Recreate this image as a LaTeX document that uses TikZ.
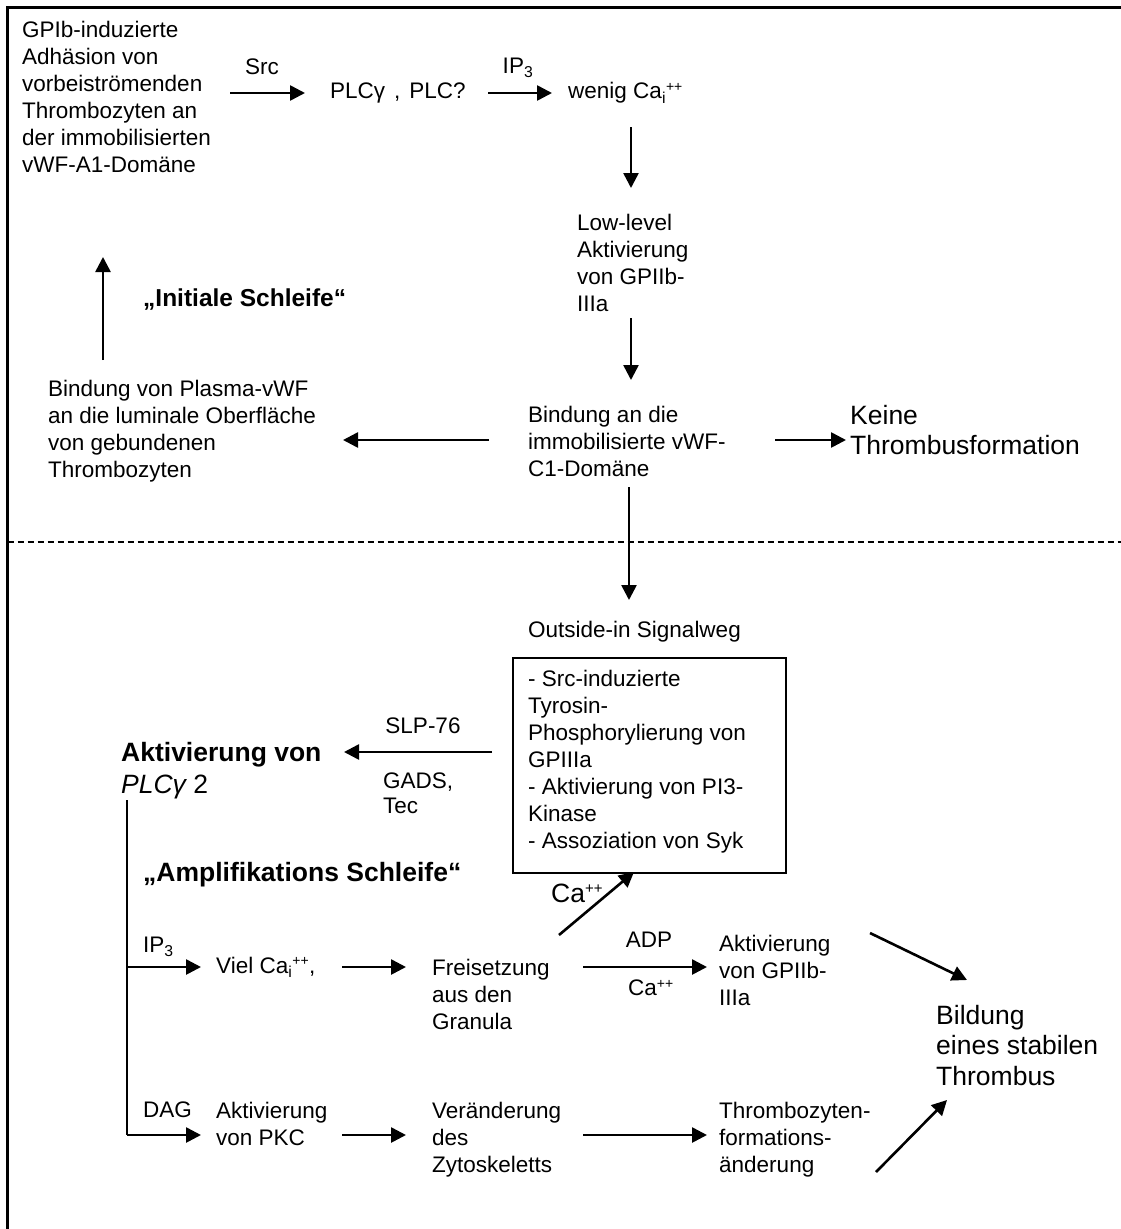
\documentclass[tikz,border=0pt]{standalone}
\usepackage{fontspec}
\setmainfont{Liberation Sans}
\usetikzlibrary{arrows.meta}
\begin{document}
\begin{tikzpicture}[x=1pt,y=-1pt,
  txt/.style={inner sep=0pt, anchor=north west, align=left, font=\fontsize{22.5}{27}\selectfont},
  big/.style={inner sep=0pt, anchor=north west, align=left, font=\fontsize{26.5}{30.5}\selectfont},
  bigb/.style={inner sep=0pt, anchor=north west, align=left, font=\fontsize{26.5}{32}\selectfont\bfseries},
  lbl/.style={inner sep=0pt, font=\fontsize{22.5}{27}\selectfont},
  arr/.style={line width=2.6pt, -{Triangle[length=15pt,width=15pt]}},
  frameline/.style={line width=3pt},
]
\useasboundingbox (0,0) rectangle (1121,1229);
% frame and separator
\coordinate (fbl) at (7.5,1229);
\coordinate (ftl) at (7.5,7.5);
\coordinate (ftr) at (1121,7.5);
\draw[frameline] (fbl) -- (ftl) -- (ftr);
\coordinate (dl) at (7.5,542);
\coordinate (dr) at (1121,542);
\draw[line width=2pt, dash pattern=on 6pt off 4pt] (dl) -- (dr);

% ---------- upper part ----------
\node[txt] (gpib) at (22,21) {GPIb-induzierte\\Adhäsion von\\vorbeiströmenden\\Thrombozyten an\\der immobilisierten\\vWF-A1-Domäne};
\node[lbl] (src) at (262,67) {Src};
\coordinate (a1s) at (230,93); \coordinate (a1e) at (305,93);
\draw[arr] (a1s) -- (a1e);
\node[lbl, anchor=west] (plc) at (330,93) {PLCγ\hspace{9pt},\hspace{9pt}PLC?};
\node[lbl] (ip3a) at (518,68) {IP\textsubscript{3}};
\coordinate (a2s) at (488,93); \coordinate (a2e) at (552,93);
\draw[arr] (a2s) -- (a2e);
\node[lbl, anchor=west] (wenig) at (568,93) {wenig Ca\textsubscript{i}\textsuperscript{\fontsize{14}{14}\selectfont ++}};
\coordinate (a3s) at (631,127); \coordinate (a3e) at (631,188);
\draw[arr] (a3s) -- (a3e);
\node[txt] (low) at (577,213.5) {Low-level\\Aktivierung\\von GPIIb-\\IIIa};
\coordinate (a4s) at (631,318); \coordinate (a4e) at (631,380);
\draw[arr] (a4s) -- (a4e);
\node[txt, font=\fontsize{24.5}{29}\selectfont\bfseries] (init) at (143,289) {„Initiale Schleife“};
\coordinate (a5s) at (103,360); \coordinate (a5e) at (103,257);
\draw[arr] (a5s) -- (a5e);
\node[txt] (plasma) at (48,379.5) {Bindung von Plasma-vWF\\an die luminale Oberfläche\\von gebundenen\\Thrombozyten};
\node[txt] (bind) at (528,405.5) {Bindung an die\\immobilisierte vWF-\\C1-Domäne};
\coordinate (a6s) at (489,440); \coordinate (a6e) at (343,440);
\draw[arr] (a6s) -- (a6e);
\coordinate (a7s) at (775,440); \coordinate (a7e) at (846,440);
\draw[arr] (a7s) -- (a7e);
\node[big] (keine) at (850,405) {Keine\\Thrombusformation};
\coordinate (a8s) at (629,487); \coordinate (a8e) at (629,600);
\draw[arr] (a8s) -- (a8e);

% ---------- lower part ----------
\node[lbl, anchor=west] (outside) at (528,632) {Outside-in Signalweg};
\node[draw, line width=2pt, anchor=north west, inner sep=0pt, minimum width=273pt, minimum height=215pt] (box) at (512,657) {};
\node[txt] (boxtxt) at (528,669.5) {- Src-induzierte\\Tyrosin-\\Phosphorylierung von\\GPIIIa\\- Aktivierung von PI3-\\Kinase\\- Assoziation von Syk};
\node[lbl] (slp) at (423,726) {SLP-76};
\coordinate (b1s) at (492,752); \coordinate (b1e) at (344,752);
\draw[arr] (b1s) -- (b1e);
\node[txt, font=\fontsize{22.5}{25}\selectfont] (gads) at (383,772.5) {GADS,\\Tec};
\node[bigb] (akt) at (121,742) {Aktivierung von\\{\mdseries\itshape PLCγ}\mdseries\ 2};
\node[bigb] (ampl) at (143,862) {„Amplifikations Schleife“};

\coordinate (vtop) at (127,800);
\coordinate (vmid) at (127,967);
\coordinate (vbot) at (127,1135);
\draw[line width=2.4pt] (vtop) -- (vbot);
\coordinate (ip3e) at (201,967);
\draw[arr] (vmid) -- (ip3e);
\coordinate (dage) at (201,1135);
\draw[arr] (vbot) -- (dage);
\node[lbl, anchor=west] (ip3b) at (143,947) {IP\textsubscript{3}};
\node[lbl, anchor=west] (dag) at (143,1110) {DAG};

\node[lbl, anchor=west] (viel) at (216,967) {Viel Ca\textsubscript{i}\textsuperscript{\fontsize{14}{14}\selectfont ++},};
\coordinate (c1s) at (342,967); \coordinate (c1e) at (406,967);
\draw[arr] (c1s) -- (c1e);
\node[txt] (frei) at (432,958.5) {Freisetzung\\aus den\\Granula};
\coordinate (c2s) at (559,935); \coordinate (c2e) at (634,872);
\draw[arr] (c2s) -- (c2e);
\node[lbl, anchor=west, font=\fontsize{26.5}{30}\selectfont] (cadiag) at (551,893) {Ca\textsuperscript{\fontsize{15}{15}\selectfont ++}};
\node[lbl] (adp) at (649,940) {ADP};
\coordinate (c3s) at (583,967); \coordinate (c3e) at (707,967);
\draw[arr] (c3s) -- (c3e);
\node[lbl] (ca2) at (651,988) {Ca\textsuperscript{\fontsize{14}{14}\selectfont ++}};
\node[txt] (aktgp) at (719,934.5) {Aktivierung\\von GPIIb-\\IIIa};
\coordinate (c4s) at (870,933); \coordinate (c4e) at (967,980);
\draw[arr] (c4s) -- (c4e);
\node[big] (bild) at (936,1005) {Bildung\\eines stabilen\\Thrombus};

\node[txt] (pkc) at (216,1101.5) {Aktivierung\\von PKC};
\coordinate (d1s) at (342,1135); \coordinate (d1e) at (406,1135);
\draw[arr] (d1s) -- (d1e);
\node[txt] (ver) at (432,1101.5) {Veränderung\\des\\Zytoskeletts};
\coordinate (d2s) at (583,1135); \coordinate (d2e) at (707,1135);
\draw[arr] (d2s) -- (d2e);
\node[txt] (thr) at (719,1101.5) {Thrombozyten-\\formations-\\änderung};
\coordinate (d3s) at (876,1172); \coordinate (d3e) at (947,1100);
\draw[arr] (d3s) -- (d3e);
\end{tikzpicture}
\end{document}
